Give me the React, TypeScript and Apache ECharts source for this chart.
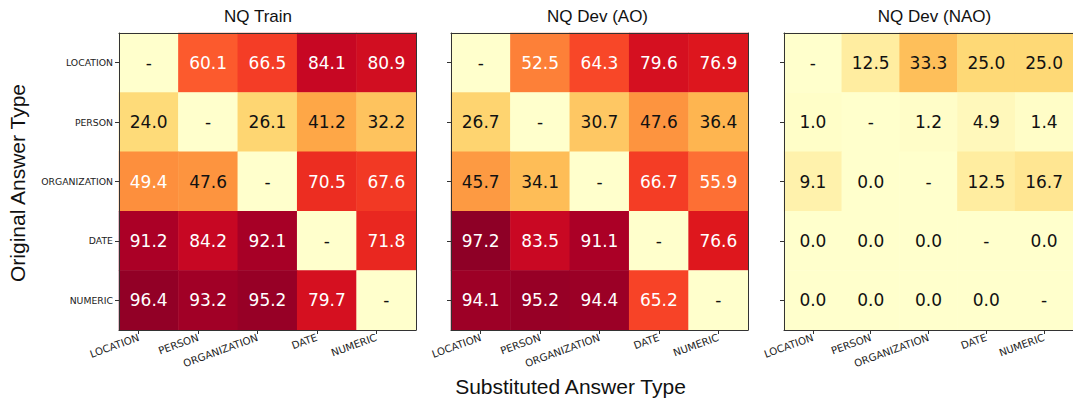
import React, { useEffect, useRef } from "react";
import * as echarts from "echarts";

const categories = ["LOCATION", "PERSON", "ORGANIZATION", "DATE", "NUMERIC"];
const panelTitles = ["NQ Train", "NQ Dev (AO)", "NQ Dev (NAO)"];

// rows = original answer type, cols = substituted answer type; null = diagonal "-"
const trainValues: (number | null)[][] = [
  [null, 60.1, 66.5, 84.1, 80.9],
  [24.0, null, 26.1, 41.2, 32.2],
  [49.4, 47.6, null, 70.5, 67.6],
  [91.2, 84.2, 92.1, null, 71.8],
  [96.4, 93.2, 95.2, 79.7, null],
];
const devAOValues: (number | null)[][] = [
  [null, 52.5, 64.3, 79.6, 76.9],
  [26.7, null, 30.7, 47.6, 36.4],
  [45.7, 34.1, null, 66.7, 55.9],
  [97.2, 83.5, 91.1, null, 76.6],
  [94.1, 95.2, 94.4, 65.2, null],
];
const devNAOValues: (number | null)[][] = [
  [null, 12.5, 33.3, 25.0, 25.0],
  [1.0, null, 1.2, 4.9, 1.4],
  [9.1, 0.0, null, 12.5, 16.7],
  [0.0, 0.0, 0.0, null, 0.0],
  [0.0, 0.0, 0.0, 0.0, null],
];
const panels = [trainValues, devAOValues, devNAOValues];

const YlOrRd = ["#ffffcc", "#ffeda0", "#fed976", "#feb24c", "#fd8d3c", "#fc4e2a", "#e31a1c", "#bd0026", "#800026"];

const gridLefts = [119, 451, 784];
const gridSize = 297;
const titleCenters = [253, 592.5, 929.5];
// horizontal shift (in category units) of the bottom ticks per panel, as in the reference
const tickShift = [-0.168, 0, 0];

export default function App() {
  const ref = useRef<HTMLDivElement>(null);
  useEffect(() => {
    document.body.style.margin = "0";
    if (!ref.current) return;
    const chart = echarts.init(ref.current, null, { renderer: "svg" });
    const tickFont = "DejaVu Sans";
    const grids: any[] = [];
    const xAxes: any[] = [];
    const yAxes: any[] = [];
    const series: any[] = [];
    const idx = categories.map((_, i) => i);
    panels.forEach((vals, p) => {
      grids.push({ left: gridLefts[p], top: 33, width: gridSize, height: gridSize, containLabel: false });
      const lineStyle = { color: "#333", width: 1 };
      // index 3p: data axis (bottom line only)
      xAxes.push({
        type: "category", gridIndex: p, data: categories, position: "bottom", z: 10,
        axisLine: { show: true, onZero: false, lineStyle },
        axisTick: { show: false }, axisLabel: { show: false },
        splitLine: { show: false },
      });
      // index 3p+1: top frame
      xAxes.push({
        type: "category", gridIndex: p, data: categories, position: "top", z: 10,
        axisLine: { show: true, onZero: false, lineStyle }, axisTick: { show: false }, axisLabel: { show: false },
      });
      // index 3p+2: ticks + labels
      xAxes.push({
        type: "value", gridIndex: p, position: "bottom", z: 10,
        min: -0.5 - tickShift[p], max: 4.5 - tickShift[p],
        axisLine: { show: false, onZero: false },
        splitLine: { show: false },
        axisTick: { show: true, length: 4, lineStyle, customValues: idx },
        axisLabel: {
          rotate: 20, fontSize: 10.2, fontFamily: tickFont, color: "#222", margin: 7,
          customValues: idx,
          formatter: (v: number) => categories[Math.round(v)] ?? "",
        },
      });
      yAxes.push({
        type: "category", gridIndex: p, data: categories, inverse: true, position: "left", z: 10,
        axisLine: { show: true, onZero: false, lineStyle },
        axisTick: { show: true, alignWithLabel: true, length: 4, lineStyle },
        axisLabel: { show: p === 0, fontSize: 9.3, fontFamily: tickFont, color: "#222", margin: 6 },
        splitLine: { show: false },
      });
      yAxes.push({
        type: "category", gridIndex: p, data: categories, inverse: true, position: "right", z: 10,
        axisLine: { show: true, onZero: false, lineStyle }, axisTick: { show: false }, axisLabel: { show: false },
      });
      const data: any[] = [];
      vals.forEach((row, r) => {
        row.forEach((v, c) => {
          const val = v === null ? 0 : v;
          data.push({
            value: [c, r, val],
            label: {
              formatter: v === null ? "-" : v.toFixed(1),
              color: v !== null && v > 48 ? "#ffffff" : "#111111",
            },
          });
        });
      });
      series.push({
        type: "heatmap",
        xAxisIndex: p * 3,
        yAxisIndex: p * 2,
        data,
        label: { show: true, fontSize: 17, fontFamily: "DejaVu Sans" },
        itemStyle: { borderWidth: 0 },
        emphasis: { disabled: true },
      });
    });
    chart.setOption({
      animation: false,
      title: panelTitles.map((t, i) => ({
        text: t, left: titleCenters[i], top: 3, textAlign: "center",
        textStyle: { fontFamily: "Liberation Sans", fontSize: 17, fontWeight: "normal", color: "#111" },
      })),
      grid: grids,
      xAxis: xAxes,
      yAxis: yAxes,
      visualMap: {
        type: "continuous", min: 0, max: 100, dimension: 2, show: false,
        seriesIndex: [0, 1, 2], inRange: { color: YlOrRd },
      },
      series,
      graphic: [
        {
          type: "text", x: 17, y: 183, rotation: Math.PI / 2,
          style: { text: "Original Answer Type", fontFamily: "Liberation Sans", fontSize: 21, fill: "#111", textAlign: "center", textVerticalAlign: "middle" },
        },
        {
          type: "text", x: 570.5, y: 386,
          style: { text: "Substituted Answer Type", fontFamily: "Liberation Sans", fontSize: 21, fill: "#111", textAlign: "center", textVerticalAlign: "middle" },
        },
      ],
    });
    return () => chart.dispose();
  }, []);
  return <div ref={ref} style={{ width: 1073, height: 400 }} />;
}
